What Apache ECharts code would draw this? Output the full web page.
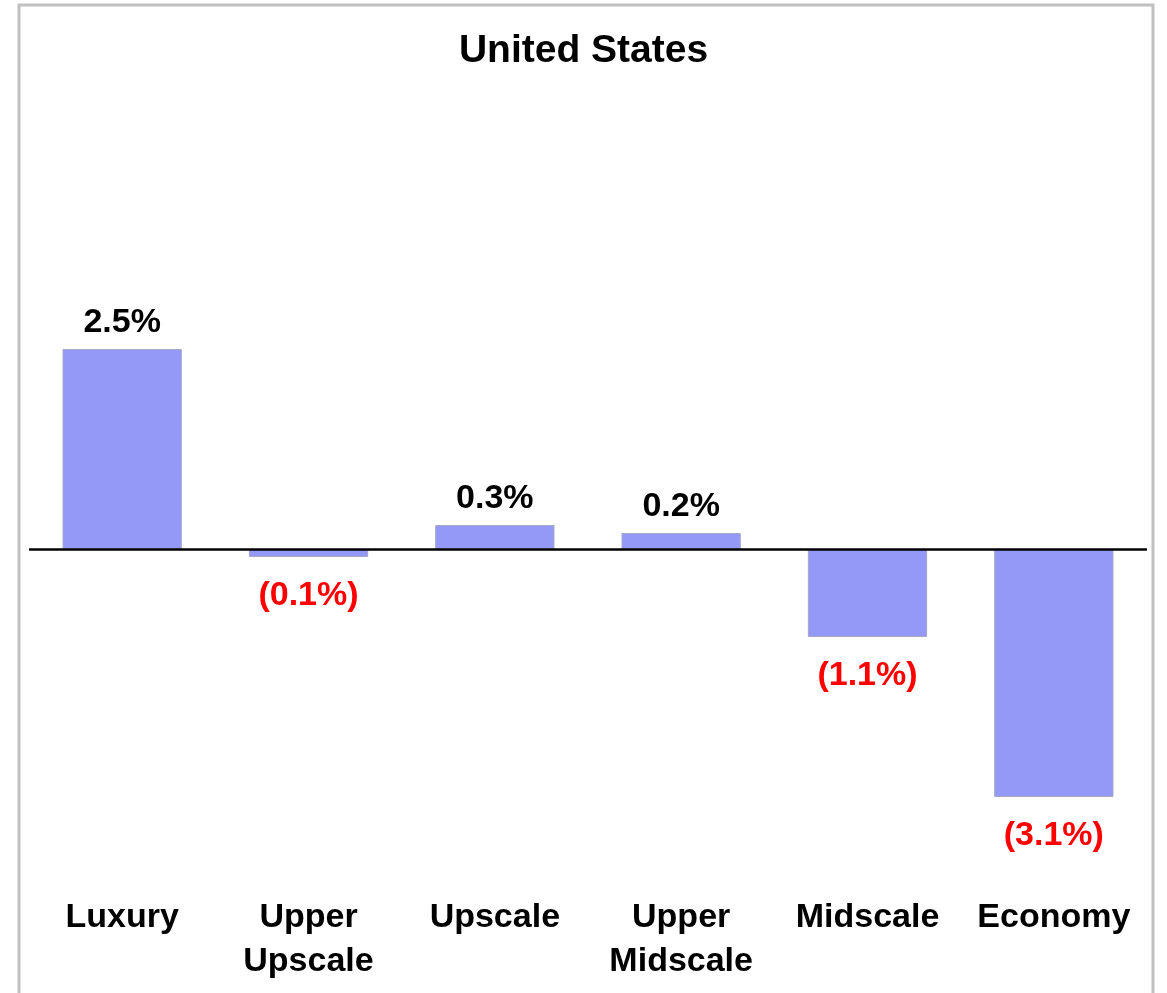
<!DOCTYPE html>
<html>
<head>
<meta charset="utf-8">
<script src="https://cdn.jsdelivr.net/npm/echarts@6/dist/echarts.min.js"></script>
<style>
  html, body { margin: 0; padding: 0; background: #fff; }
  #chart { width: 1167px; height: 993px; }
</style>
</head>
<body>
<div id="chart"></div>
<script>
// segment names and change values (%)
var categories = ['Luxury', 'Upper\nUpscale', 'Upscale', 'Upper\nMidscale', 'Midscale', 'Economy'];
var changes = [2.5, -0.1, 0.3, 0.2, -1.1, -3.1];

var chart = echarts.init(document.getElementById('chart'));

// negative values shown in red with brackets
function fmt(v) {
  return v < 0 ? '(' + Math.abs(v).toFixed(1) + '%)' : v.toFixed(1) + '%';
}

var barData = changes.map(function (v) {
  return {
    value: v,
    label: {
      position: v < 0 ? 'bottom' : 'top',
      distance: v < 0 ? 22 : 9,
      color: v < 0 ? '#ff0000' : '#000000'
    }
  };
});

var option = {
  backgroundColor: '#ffffff',
  animation: false,
  title: {
    text: 'United States',
    left: 'center',
    top: 27,
    textStyle: {
      fontFamily: 'Liberation Sans',
      fontWeight: 'bold',
      fontSize: 39,
      color: '#000'
    }
  },
  graphic: [{
    type: 'rect',
    shape: { x: 19, y: 5, width: 1134, height: 1000 },
    style: { fill: 'none', stroke: '#c0c0c0', lineWidth: 3 },
    silent: true
  }],
  grid: { left: 29, right: 20, top: 309, bottom: 124 },
  xAxis: {
    type: 'category',
    data: categories,
    axisLine: { show: false },
    axisTick: { show: false },
    axisLabel: {
      margin: 27,
      fontFamily: 'Liberation Sans',
      fontWeight: 'bold',
      fontSize: 34,
      lineHeight: 44,
      color: '#000',
      interval: 0
    }
  },
  yAxis: {
    type: 'value',
    min: -4,
    max: 3,
    show: false,
    splitLine: { show: false }
  },
  series: [{
    type: 'bar',
    data: barData,
    barWidth: '64%',
    itemStyle: { color: '#9499f7', borderColor: '#a6a6c8', borderWidth: 1 },
    label: {
      show: true,
      fontFamily: 'Liberation Sans',
      fontWeight: 'bold',
      fontSize: 34,
      formatter: function (p) { return fmt(p.value); }
    },
    markLine: {
      silent: true,
      symbol: 'none',
      label: { show: false },
      lineStyle: { color: '#000', width: 2.5, type: 'solid' },
      data: [{ yAxis: 0 }]
    }
  }]
};

chart.setOption(option);
</script>
</body>
</html>
